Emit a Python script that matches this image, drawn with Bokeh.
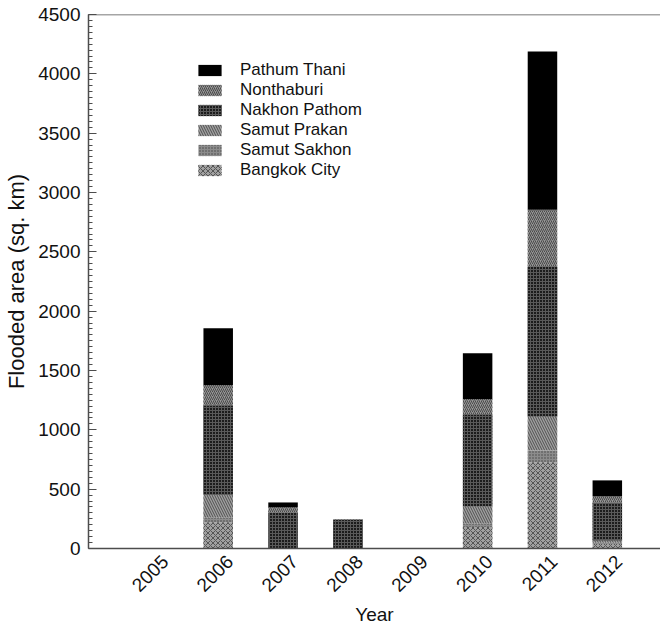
from bokeh.plotting import figure
from bokeh.models import (SingleIntervalTicker, FixedTicker, Legend, LegendItem, Span,
                          ColumnDataSource, Range1d)
from bokeh.transform import stack
from bokeh.embed import file_html
from bokeh.resources import INLINE

years = [2005, 2006, 2007, 2008, 2009, 2010, 2011, 2012]
year_labels = ["2005", "2006", "2007", "2008", "2009", "2010", "2011", "2012"]

bangkok_city = [0, 222, 0, 0, 0, 181, 727, 38]
samut_sakhon = [0, 40, 0, 0, 0, 30, 100, 10]
samut_prakan = [0, 194, 0, 0, 0, 144, 288, 20]
nakhon_pathom = [0, 751, 304, 245, 0, 776, 1258, 320]
nonthaburi = [0, 169, 42, 0, 0, 127, 481, 51]
pathum_thani = [0, 481, 42, 0, 0, 388, 1334, 135]

series_names = ["Bangkok City", "Samut Sakhon", "Samut Prakan",
                "Nakhon Pathom", "Nonthaburi", "Pathum Thani"]
series_values = [bangkok_city, samut_sakhon, samut_prakan,
                 nakhon_pathom, nonthaburi, pathum_thani]

styles = {
    "Bangkok City": dict(fill_color="#a0a0a0", hatch_pattern="x", hatch_color="#555555", hatch_scale=5, hatch_weight=1),
    "Samut Sakhon": dict(fill_color="#8c8c8c", hatch_pattern=".", hatch_color="#444444", hatch_scale=3, hatch_weight=1),
    "Samut Prakan": dict(fill_color="#a0a0a0", hatch_pattern="\\", hatch_color="#505050", hatch_scale=5, hatch_weight=1),
    "Nakhon Pathom": dict(fill_color="#1c1c1c", hatch_pattern="+", hatch_color="#5a5a5a", hatch_scale=3, hatch_weight=1),
    "Nonthaburi": dict(fill_color="#959595", hatch_pattern="/", hatch_color="#4a4a4a", hatch_scale=4, hatch_weight=1),
    "Pathum Thani": dict(fill_color="#000000"),
}

data = {"year": years}
for n, v in zip(series_names, series_values):
    data[n] = v
source = ColumnDataSource(data)

p = figure(width=660, height=627, output_backend="svg", toolbar_location=None,
           x_range=Range1d(2004, 2012.82), y_range=Range1d(0, 4500),
           min_border_left=88, min_border_top=14, min_border_right=0, min_border_bottom=78)
p.outline_line_color = None
p.grid.visible = False
p.background_fill_color = "white"

rs = []
for i, n in enumerate(series_names):
    st = styles[n]
    r = p.vbar(x="year", width=0.455, source=source,
               bottom=stack(*series_names[:i]), top=stack(*series_names[:i + 1]),
               line_color=None, **st)
    rs.append(r)

items = [LegendItem(label=n, renderers=[r]) for n, r in zip(series_names, rs)][::-1]
legend = Legend(items=items, location=(107, 368), padding=0, margin=0,
                border_line_color=None, background_fill_alpha=0,
                glyph_width=29, glyph_height=14, label_height=14, spacing=0,
                label_standoff=16, label_text_font="Liberation Sans",
                label_text_font_size="17px", label_text_color="#111111")
p.add_layout(legend, "center")

font = "Liberation Sans"
yax = p.yaxis[0]
yax.ticker = SingleIntervalTicker(interval=500, num_minor_ticks=10)
yax.axis_label = "Flooded area (sq. km)"
yax.major_tick_in = 8
yax.major_tick_out = 0
yax.minor_tick_in = 4
yax.minor_tick_out = 0
yax.major_label_standoff = 8

# rotated year labels sit slightly to the right of each bar centre
label_shift = 0.18
xax = p.xaxis[0]
xax.ticker = FixedTicker(ticks=[y + label_shift for y in years])
xax.major_label_overrides = {y + label_shift: l for y, l in zip(years, year_labels)}
xax.major_label_orientation = 0.785398
xax.axis_label = "Year"
xax.major_label_standoff = 4

for ax in (xax, yax):
    ax.axis_line_color = "#4d4d4d"
    ax.axis_line_width = 1.5
    ax.major_tick_line_color = "#4d4d4d" if ax is yax else None
    ax.minor_tick_line_color = "#4d4d4d" if ax is yax else None
    ax.major_label_text_font = font
    ax.major_label_text_font_size = "19px"
    ax.major_label_text_color = "#111111"
    ax.axis_label_text_font = font
    ax.axis_label_text_font_size = "19px"
    ax.axis_label_text_font_style = "normal"
    ax.axis_label_text_color = "#111111"
    ax.axis_label_standoff = 3

yax.axis_label_text_font_size = "22px"
yax.axis_label_standoff = 6

p.add_layout(Span(location=4500, dimension="width", line_color="#4d4d4d", line_width=1.5))

open("out.html", "w").write(file_html(p, INLINE))
